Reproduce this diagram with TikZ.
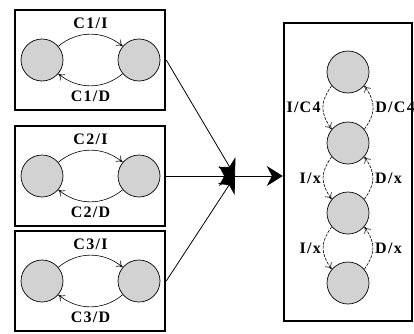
\documentclass[tikz,border=0pt]{standalone}
\usepackage{fontspec}
\setmainfont{Liberation Serif}
\newfontfamily\lblfont[LetterSpace=8]{Liberation Serif}
\usetikzlibrary{arrows.meta}

\definecolor{stategray}{RGB}{210,210,210}

\begin{document}
\begin{tikzpicture}[x=1pt,y=1pt,
    state/.style={circle, draw, line width=0.7pt, fill=stategray, minimum size=42pt, inner sep=0pt},
    frame/.style={draw, line width=2.5pt, minimum width=150pt, minimum height=100pt, inner sep=0pt},
    lbl/.style={font=\lblfont\bfseries\fontsize{16}{18}\selectfont, inner sep=2pt},
    trans/.style={-{To[length=6pt,width=8pt]}, line width=0.6pt},
    big/.style={-{Stealth[length=16pt,width=20pt]}, line width=0.8pt}]
    \useasboundingbox (0,0) rectangle (414,333);

    % Three small machines, one per channel
    \foreach \i/\y in {1/273,2/157,3/52} {
        \node[frame] (box\i) at (90,\y) {};
        \node[state] (a\i) at (42,\y) {};
        \node[state] (b\i) at (139,\y) {};
        \draw[trans] (a\i) to[bend left=40] node[lbl, above=3pt] {C\i/I} (b\i);
        \draw[trans] (b\i) to[bend left=40] node[lbl, below=3pt] {C\i/D} (a\i);
    }

    % Product machine on the right
    \node[frame, minimum width=128pt, minimum height=298pt] (prod) at (348,161) {};
    \foreach \j/\y in {1/261,2/190,3/120,4/50}
        \node[state] (s\j) at (348,\y) {};

    % Dashed transitions between the stacked states
    \draw[trans, dash pattern=on 3pt off 1.2pt] (s1.220) to[out=235,in=125,looseness=1.2] node[lbl, left] {I/C4} (s2.140);
    \draw[trans, dash pattern=on 3pt off 1.2pt] (s2.40) to[out=55,in=-55,looseness=1.2] node[lbl, right] {D/C4} (s1.-40);
    \draw[trans, dash pattern=on 3pt off 1.2pt] (s2.220) to[out=235,in=125,looseness=1.2] node[lbl, left] {I/x} (s3.140);
    \draw[trans, dash pattern=on 3pt off 1.2pt] (s3.40) to[out=55,in=-55,looseness=1.2] node[lbl, right] {D/x} (s2.-40);
    \draw[trans, dash pattern=on 3pt off 1.2pt] (s3.220) to[out=235,in=125,looseness=1.2] node[lbl, left] {I/x} (s4.140);
    \draw[trans, dash pattern=on 3pt off 1.2pt] (s4.40) to[out=55,in=-55,looseness=1.2] node[lbl, right] {D/x} (s3.-40);

    % Channels joined into one arrow
    \coordinate (join) at (235,157);
    \foreach \i in {1,2,3}
        \draw[big] (box\i.east) -- (join);
    \draw[big] (join) -- (join -| prod.west);
\end{tikzpicture}
\end{document}
